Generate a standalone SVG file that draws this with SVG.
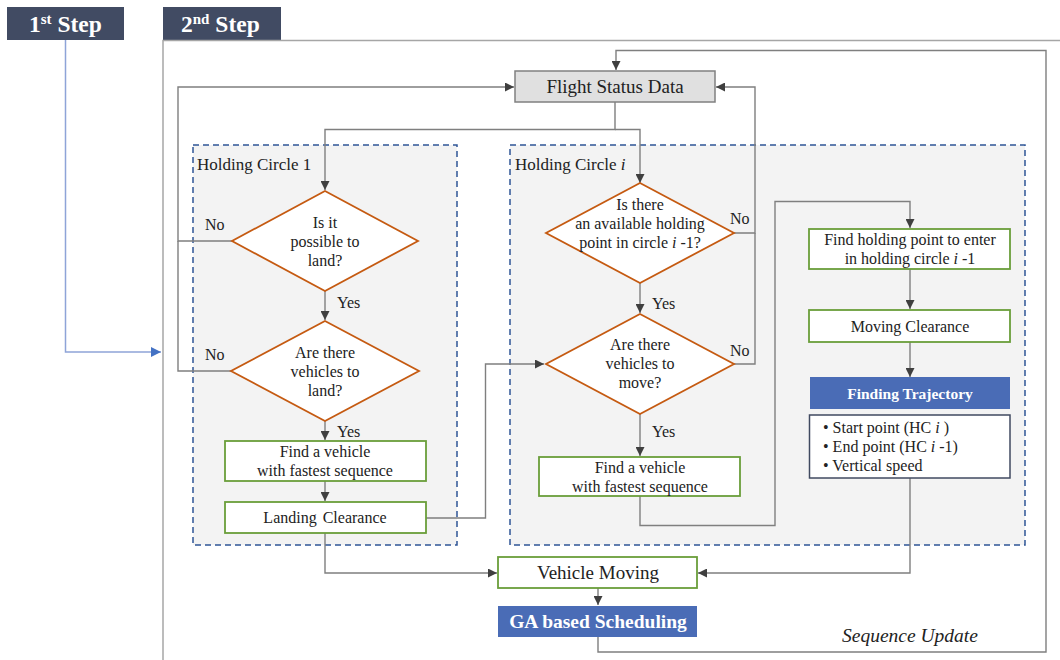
<svg xmlns="http://www.w3.org/2000/svg" width="1060" height="660" viewBox="0 0 1060 660">
  <defs>
    <marker id="arr" viewBox="0 0 10 10" refX="10" refY="5" markerWidth="9" markerHeight="9" markerUnits="userSpaceOnUse" orient="auto">
      <path d="M0,0 L10,5 L0,10 z" fill="#3f3f3f"/>
    </marker>
    <marker id="arrBlue" viewBox="0 0 10 10" refX="10" refY="5" markerWidth="10" markerHeight="10" markerUnits="userSpaceOnUse" orient="auto">
      <path d="M0,0 L10,5 L0,10 z" fill="#4472c4"/>
    </marker>
  </defs>
  <style>
    text { font-family: "Liberation Serif", "Times New Roman", serif; fill: #222; }
    .hdr { fill: #414b63; }
    .hdrt { fill: #ffffff; font-size: 23.5px; font-weight: bold; }
    .frame { fill: none; stroke: #a6a6a6; stroke-width: 1.5; }
    .hc { fill: #f3f3f3; stroke: #2f5597; stroke-width: 1.5; stroke-dasharray: 6 4; }
    .hct { font-size: 17px; }
    .dia { fill: #ffffff; stroke: #c55a11; stroke-width: 1.8; }
    .dt { font-size: 16px; text-anchor: middle; }
    .box { fill: #ffffff; stroke: #6a9e3a; stroke-width: 1.8; }
    .bt { font-size: 16px; text-anchor: middle; }
    .blue { fill: #4a6cb6; }
    .wt { fill: #ffffff; font-weight: bold; text-anchor: middle; }
    .lbl { font-size: 16px; }
    .ln { fill: none; stroke: #7f7f7f; stroke-width: 1.4; }
  </style>

  <!-- step headers and frame -->
  <g id="step1">
    <rect class="hdr" x="7" y="7" width="117" height="33"/>
    <text class="hdrt" x="29" y="32">1<tspan font-size="15" dy="-8">st</tspan><tspan dy="8"> Step</tspan></text>
  </g>
  <g id="step2">
    <rect class="hdr" x="163" y="7" width="118" height="33"/>
    <text class="hdrt" x="181" y="32">2<tspan font-size="15" dy="-8">nd</tspan><tspan dy="8"> Step</tspan></text>
    <polyline class="frame" points="163,660 163,40.5 1060,40.5"/>
  </g>

  <!-- holding circle containers -->
  <g id="hc1">
    <rect class="hc" x="193" y="145" width="264" height="400"/>
    <text class="hct" x="197" y="170">Holding Circle 1</text>
  </g>
  <g id="hci">
    <rect class="hc" x="510" y="145" width="515" height="400"/>
    <text class="hct" x="515" y="170">Holding Circle <tspan font-style="italic">i</tspan></text>
  </g>

  <!-- connectors -->
  <g id="connectors">
    <polyline points="65.5,40 65.5,352 161,352" fill="none" stroke="#8ea4d8" stroke-width="1.5" marker-end="url(#arrBlue)"/>
    <!-- Flight Status Data fan-out -->
    <polyline class="ln" points="615,102 615,129.5 325,129.5 325,190" marker-end="url(#arr)"/>
    <polyline class="ln" points="615,129.5 640,129.5 640,183" marker-end="url(#arr)"/>
    <!-- holding circle 1 -->
    <polyline class="ln" points="232,241 178,241 178,87 514,87" marker-end="url(#arr)"/>
    <polyline class="ln" points="231,371 178,371 178,241"/>
    <polyline class="ln" points="325,291 325,320" marker-end="url(#arr)"/>
    <polyline class="ln" points="325,421 325,440" marker-end="url(#arr)"/>
    <polyline class="ln" points="325,481 325,501" marker-end="url(#arr)"/>
    <polyline class="ln" points="426,518 485.5,518 485.5,364 544,364" marker-end="url(#arr)"/>
    <polyline class="ln" points="325,533 325,573 497,573" marker-end="url(#arr)"/>
    <!-- holding circle i -->
    <polyline class="ln" points="734,233 755,233 755,87 716,87" marker-end="url(#arr)"/>
    <polyline class="ln" points="734,364 755,364 755,233"/>
    <polyline class="ln" points="640,283 640,313" marker-end="url(#arr)"/>
    <polyline class="ln" points="640,414 640,456" marker-end="url(#arr)"/>
    <polyline class="ln" points="640,496 640,525.5 775,525.5 775,201.5 910,201.5 910,228" marker-end="url(#arr)"/>
    <polyline class="ln" points="910,269 910,309" marker-end="url(#arr)"/>
    <polyline class="ln" points="910,342 910,377" marker-end="url(#arr)"/>
    <polyline class="ln" points="910,478 910,573 698,573" marker-end="url(#arr)"/>
    <!-- scheduling and sequence update loop -->
    <polyline class="ln" points="598,588 598,605" marker-end="url(#arr)"/>
    <polyline class="ln" points="598,637 598,652 1046,652 1046,50.5 616,50.5 616,70" marker-end="url(#arr)"/>
  </g>

  <!-- connector labels -->
  <g id="labels">
    <text class="lbl" x="205" y="230">No</text>
    <text class="lbl" x="337" y="308">Yes</text>
    <text class="lbl" x="205" y="360">No</text>
    <text class="lbl" x="337" y="437">Yes</text>
    <text class="lbl" x="730" y="224">No</text>
    <text class="lbl" x="652" y="309">Yes</text>
    <text class="lbl" x="730" y="356">No</text>
    <text class="lbl" x="652" y="437">Yes</text>
    <text x="842" y="642" font-size="19.5" font-style="italic">Sequence Update</text>
  </g>

  <!-- nodes -->
  <g id="flight-status">
    <rect x="515" y="71" width="200" height="31" fill="#e0e0e0" stroke="#808080" stroke-width="1.5"/>
    <text x="615" y="93" font-size="19" text-anchor="middle">Flight Status Data</text>
  </g>

  <g id="d-possible-land">
    <polygon class="dia" points="325,191 418,241 325,291 232,241"/>
    <text class="dt" x="325" y="228">Is it</text>
    <text class="dt" x="325" y="247">possible to</text>
    <text class="dt" x="325" y="266">land?</text>
  </g>
  <g id="d-vehicles-land">
    <polygon class="dia" points="325,321 419,371 325,421 231,371"/>
    <text class="dt" x="325" y="358">Are there</text>
    <text class="dt" x="325" y="377">vehicles to</text>
    <text class="dt" x="325" y="396">land?</text>
  </g>
  <g id="find-vehicle-1">
    <rect class="box" x="225" y="441" width="201" height="40"/>
    <text class="bt" x="325" y="457">Find a vehicle</text>
    <text class="bt" x="325" y="476">with fastest sequence</text>
  </g>
  <g id="landing-clearance">
    <rect class="box" x="225" y="502" width="201" height="31"/>
    <text class="bt" x="325" y="523" word-spacing="2">Landing Clearance</text>
  </g>

  <g id="d-available-point">
    <polygon class="dia" points="640,183 734,233 640,283 546,233"/>
    <text class="dt" x="640" y="210">Is there</text>
    <text class="dt" x="640" y="229">an available holding</text>
    <text class="dt" x="640" y="248">point in circle <tspan font-style="italic">i</tspan> -1?</text>
  </g>
  <g id="d-vehicles-move">
    <polygon class="dia" points="640,314 734,364 640,414 546,364"/>
    <text class="dt" x="640" y="350">Are there</text>
    <text class="dt" x="640" y="369">vehicles to</text>
    <text class="dt" x="640" y="388">move?</text>
  </g>
  <g id="find-vehicle-i">
    <rect class="box" x="539" y="457" width="201" height="39"/>
    <text class="bt" x="640" y="473">Find a vehicle</text>
    <text class="bt" x="640" y="492">with fastest sequence</text>
  </g>

  <g id="find-holding-point">
    <rect class="box" x="809" y="229" width="201" height="40"/>
    <text class="bt" x="910" y="245">Find holding point to enter</text>
    <text class="bt" x="910" y="264">in holding circle <tspan font-style="italic">i</tspan> -1</text>
  </g>
  <g id="moving-clearance">
    <rect class="box" x="809" y="310" width="201" height="32"/>
    <text class="bt" x="910" y="332">Moving Clearance</text>
  </g>
  <g id="finding-trajectory">
    <rect class="blue" x="810" y="377" width="200" height="32"/>
    <text class="wt" x="910" y="399" font-size="15.5">Finding Trajectory</text>
    <rect x="809.5" y="415" width="200.5" height="63" fill="#ffffff" stroke="#404a60" stroke-width="1.5"/>
    <text class="lbl" x="823" y="433">•  Start point (HC  <tspan font-style="italic">i</tspan> )</text>
    <text class="lbl" x="823" y="452">•  End point (HC <tspan font-style="italic">i</tspan> -1)</text>
    <text class="lbl" x="823" y="471">•  Vertical speed</text>
  </g>

  <g id="vehicle-moving">
    <rect class="box" x="498" y="557" width="199" height="31"/>
    <text x="598" y="579" font-size="19" text-anchor="middle">Vehicle Moving</text>
  </g>
  <g id="ga-scheduling">
    <rect class="blue" x="498" y="606" width="199" height="31"/>
    <text class="wt" x="598" y="628" font-size="19.5">GA based Scheduling</text>
  </g>
</svg>
